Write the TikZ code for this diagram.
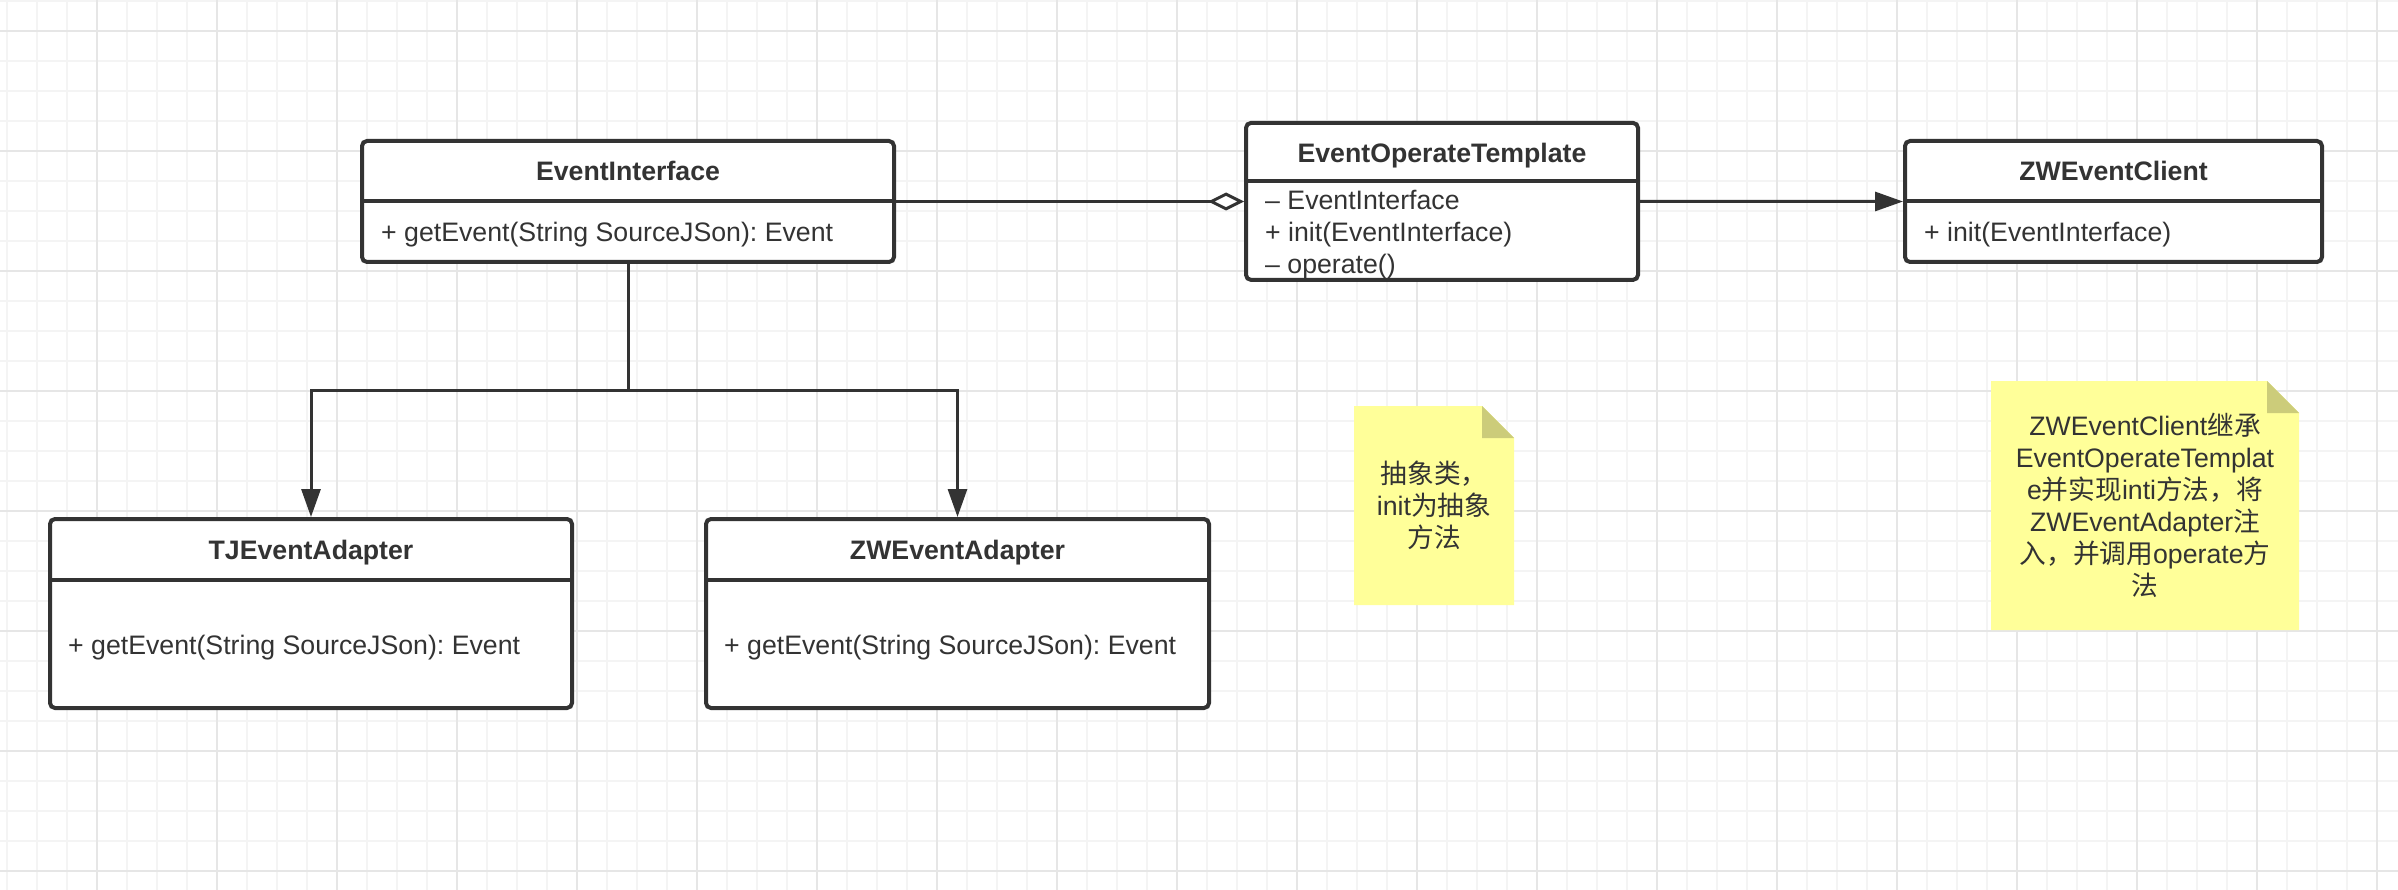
\documentclass[tikz,border=0pt]{standalone}
\usepackage{fontspec}
\setmainfont{Liberation Sans}
\newfontfamily\cjk{Noto Sans CJK SC}
\usetikzlibrary{arrows.meta}
\definecolor{ink}{HTML}{333333}
\definecolor{gridminor}{HTML}{F4F4F4}
\definecolor{gridmajor}{HTML}{E6E6E6}
\definecolor{notefill}{HTML}{FFFF99}
\definecolor{notefold}{HTML}{CCCC7A}
\frenchspacing

\begin{document}
\begin{tikzpicture}[x=1pt,y=-1pt]
            \tikzstyle{minorgrid}=[draw=gridminor, line width=2pt]
            \tikzstyle{majorgrid}=[draw=gridmajor, line width=2pt]
            \tikzstyle{classbox}=[draw=ink, line width=4pt, rounded corners=5pt, fill=white, inner sep=0pt]
            \tikzstyle{title}=[font=\fontsize{26.7}{32}\selectfont\bfseries, text=ink, inner sep=0pt, text height=19.1pt, text depth=0pt]
            \tikzstyle{member}=[font=\fontsize{26.7}{32}\selectfont, text=ink, anchor=west, inner sep=0pt, text height=19.1pt, text depth=0pt]
            \tikzstyle{divider}=[draw=ink, line width=4pt]
            \tikzstyle{inherit}=[draw=ink, line width=3pt, -{Triangle[length=28pt,width=19pt]}]
            \tikzstyle{aggregate}=[draw=ink, line width=3pt, -{Diamond[fill=white,length=36pt,width=18pt]}]
            \tikzstyle{note}=[inner sep=0pt, align=center, font=\fontsize{26.7}{32}\selectfont, text=ink,
                path picture={
                    \fill[notefill] (path picture bounding box.south west) -- (path picture bounding box.north west)
                        -- ([xshift=-32pt]path picture bounding box.north east) -- ([yshift=-32pt]path picture bounding box.north east)
                        -- (path picture bounding box.south east) -- cycle;
                    \fill[notefold] ([xshift=-32pt]path picture bounding box.north east) -- ([xshift=-32pt,yshift=-32pt]path picture bounding box.north east)
                        -- ([yshift=-32pt]path picture bounding box.north east) -- cycle;
                }]
            \useasboundingbox[fill=white] (0,0) rectangle (2398,890);
            \foreach \x in {6.7,36.7,...,2398} \draw[minorgrid] (\x,0) -- (\x,890);
            \foreach \y in {0.7,30.7,...,890} \draw[minorgrid] (0,\y) -- (2398,\y);
            \foreach \x in {96.7,216.7,...,2398} \draw[majorgrid] (\x,0) -- (\x,890);
            \foreach \y in {30.7,150.7,...,890} \draw[majorgrid] (0,\y) -- (2398,\y);

            \node[classbox, minimum width=532pt, minimum height=121pt] (ei) at (628,201.5) {};
            \node[title] (eit) at (ei.center |- 0,171) {EventInterface};
            \draw[divider] (ei.west) -- (ei.east);
            \node[member] (eim) at ([xshift=21pt]ei.west |- 0,231.5) {+ getEvent(String SourceJSon): Event};

            \node[classbox, minimum width=522pt, minimum height=189pt] (tj) at (311,613.5) {};
            \node[title] (tjt) at (tj.center |- 0,549.5) {TJEventAdapter};
            \draw[divider] (tj.west |- 0,580) -- (tj.east |- 0,580);
            \node[member] (tjm) at ([xshift=20pt]tj.west |- 0,645) {+ getEvent(String SourceJSon): Event};

            \node[classbox, minimum width=503pt, minimum height=189pt] (zw) at (957.5,613.5) {};
            \node[title] (zwt) at (zw.center |- 0,549.5) {ZWEventAdapter};
            \draw[divider] (zw.west |- 0,580) -- (zw.east |- 0,580);
            \node[member] (zwm) at ([xshift=20pt]zw.west |- 0,645) {+ getEvent(String SourceJSon): Event};

            \node[classbox, minimum width=392pt, minimum height=157pt] (eot) at (1442,201.4) {};
            \node[title] (eott) at (eot.center |- 0,152.5) {EventOperateTemplate};
            \draw[divider] (eot.west |- 0,181) -- (eot.east |- 0,181);
            \node[member] (eotm1) at ([xshift=21pt]eot.west |- 0,199.5) {– EventInterface};
            \node[member] (eotm2) at ([xshift=21pt]eot.west |- 0,231.5) {+ init(EventInterface)};
            \node[member] (eotm3) at ([xshift=21pt]eot.west |- 0,263.5) {– operate()};

            \node[classbox, minimum width=417pt, minimum height=121pt] (zwc) at (2113.5,201.5) {};
            \node[title] (zwct) at (zwc.center |- 0,171) {ZWEventClient};
            \draw[divider] (zwc.west) -- (zwc.east);
            \node[member] (zwcm) at ([xshift=21pt]zwc.west |- 0,231.5) {+ init(EventInterface)};

            \coordinate (fork) at (ei.south |- 0,390);
            \draw[inherit] (ei.south) -- (fork) -| (tj.north);
            \draw[inherit] (fork) -| (zw.north);
            \draw[aggregate] (ei.east) -- (eot.west |- ei.east);
            \draw[inherit] (eot.east) -- (zwc.west);

            \node[note, minimum width=160pt, minimum height=199pt] (abstractnote) at (1434,505.5)
                {{\cjk 抽象类，}\\init{\cjk 为抽象}\\{\cjk 方法}};
            \node[note, minimum width=308pt, minimum height=249pt] (clientnote) at (2145,505.5)
                {ZWEventClient{\cjk 继承}\\EventOperateTemplat\\e{\cjk 并实现}inti{\cjk 方法，将}\\ZWEventAdapter{\cjk 注}\\{\cjk 入，并调用}operate{\cjk 方}\\{\cjk 法}};
        \end{tikzpicture}
\end{document}
